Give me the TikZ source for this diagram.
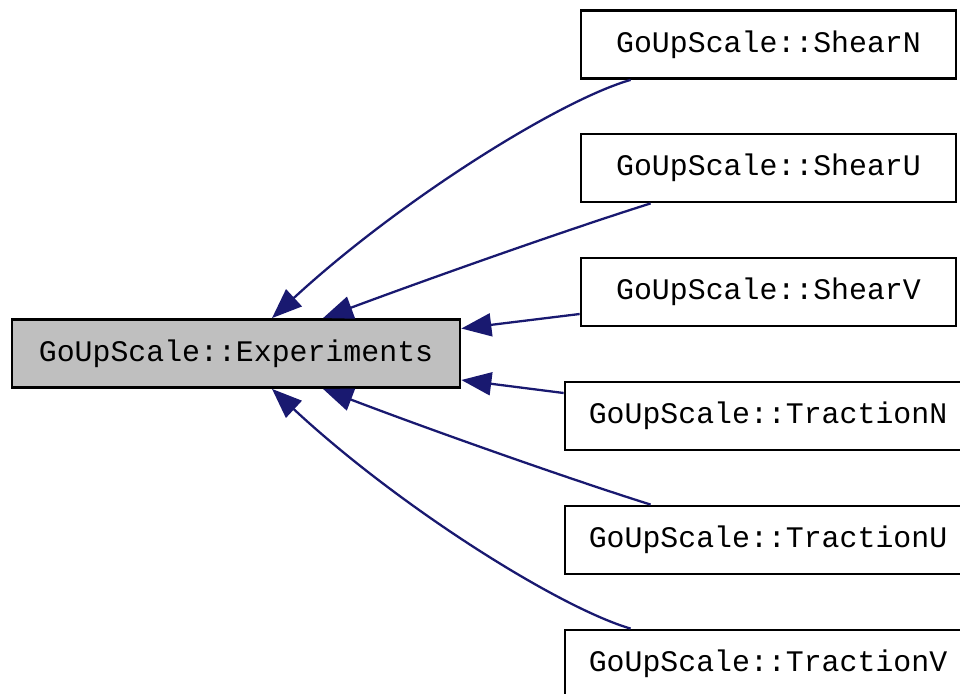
\documentclass[tikz,border=0pt]{standalone}
\usepackage{fontspec}
\setmonofont{Liberation Mono}
\usepackage{tikz}
\usetikzlibrary{arrows.meta}

\begin{document}
\begin{tikzpicture}[x=0.02cm,y=-0.02cm]
    \tikzstyle{cls} = [draw,rectangle,line width=1.6pt,fill=white,minimum height=1.36cm,inner sep=0pt,font=\ttfamily\fontsize{17}{20}\selectfont]
    \tikzstyle{base} = [cls,fill=black!25,minimum width=8.96cm]
    \tikzstyle{edge} = [draw=midnightblue,line width=1.3pt,{Triangle[length=0.6cm,width=0.46cm,fill=midnightblue]}-]
    \definecolor{midnightblue}{RGB}{25,25,112}
    \useasboundingbox (0,0) rectangle (960,693);
    % base class
    \node[base] (exp) at (236,353.5) {GoUpScale::Experiments};
    % derived classes
    \node[cls,minimum width=7.5cm] (shn) at (768.5,44.5) {GoUpScale::ShearN};
    \node[cls,minimum width=7.5cm] (shu) at (768.5,168) {GoUpScale::ShearU};
    \node[cls,minimum width=7.5cm] (shv) at (768.5,292) {GoUpScale::ShearV};
    \node[cls,minimum width=8.12cm] (trn) at (768,416) {GoUpScale::TractionN};
    \node[cls,minimum width=8.12cm] (tru) at (768,540) {GoUpScale::TractionU};
    \node[cls,minimum width=8.12cm] (trv) at (768,664) {GoUpScale::TractionV};
    % inheritance edges
    \draw[edge] ([xshift=0.72cm]exp.north) .. controls (400,200) and (560,100) .. ([xshift=1.02cm]shn.south west);
    \draw[edge] ([xshift=1.74cm]exp.north) .. controls (420,282) and (560,232) .. ([xshift=1.42cm]shu.south west);
    \draw[edge] ([yshift=0.5cm]exp.east) -- ([yshift=-0.44cm]shv.west);
    \draw[edge] ([yshift=-0.53cm]exp.east) -- ([yshift=0.46cm]trn.west);
    \draw[edge] ([xshift=1.74cm]exp.south) .. controls (420,426) and (560,476) .. ([xshift=1.74cm]tru.north west);
    \draw[edge] ([xshift=0.72cm]exp.south) .. controls (400,508) and (560,608) .. ([xshift=1.34cm]trv.north west);
\end{tikzpicture}
\end{document}
